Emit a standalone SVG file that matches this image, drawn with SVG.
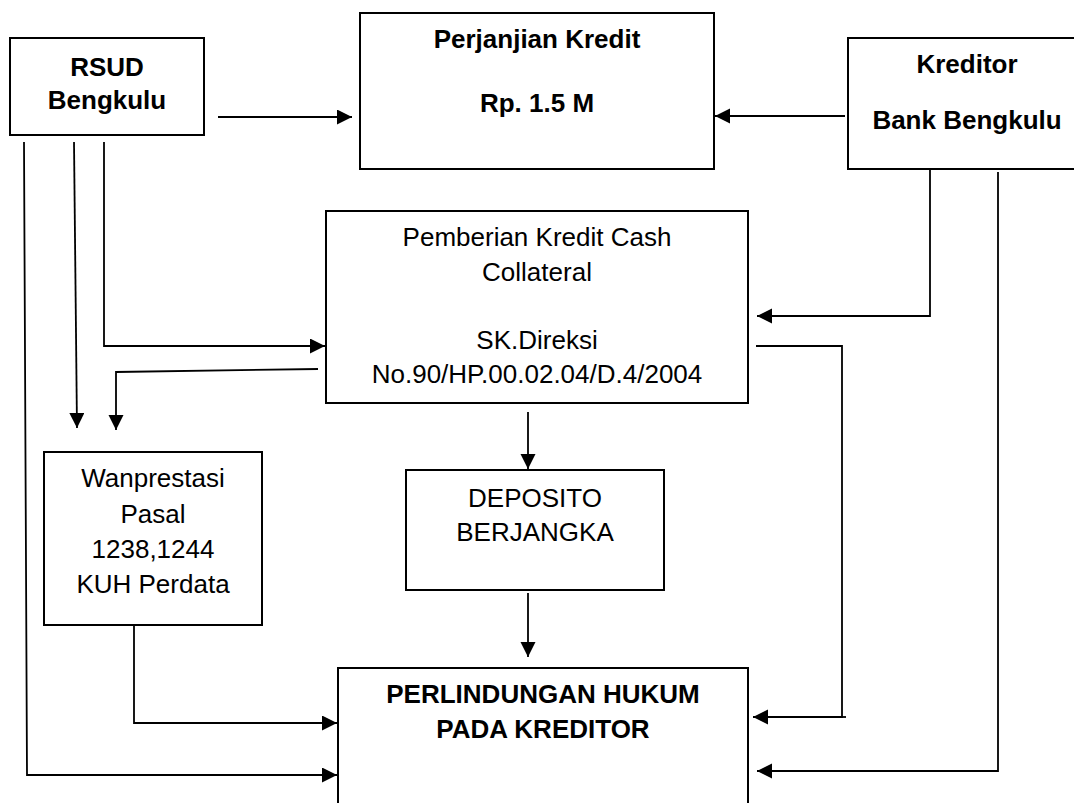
<svg xmlns="http://www.w3.org/2000/svg" width="1074" height="803" viewBox="0 0 1074 803">
<defs>
<marker id="ah" markerUnits="userSpaceOnUse" markerWidth="16" markerHeight="16" refX="15" refY="7.5" orient="auto">
<path d="M0,0 L15,7.5 L0,15 z" fill="#000"/>
</marker>
<style>
.box{fill:#fff;stroke:#000;stroke-width:2}
.c{fill:none;stroke:#000;stroke-width:1.8;marker-end:url(#ah)}
.n{fill:none;stroke:#000;stroke-width:1.8}
.b{font-family:"Liberation Sans",Arial,sans-serif;font-size:26px;font-weight:bold;text-anchor:middle;fill:#000}
.r{font-family:"Liberation Sans",Arial,sans-serif;font-size:26px;text-anchor:middle;fill:#000}
</style>
</defs>
<rect width="1074" height="803" fill="#fff"/>
<g id="connectors">
<path class="c" d="M218,117 H352"/>
<path class="c" d="M845,116 H715"/>
<path class="c" d="M930,170 V316 H757"/>
<path class="c" d="M998,172 V771 H757"/>
<path class="c" d="M756,346 H842 V717 H753"/>
<path class="n" d="M842,717 H846"/>
<path class="c" d="M528,412 V469"/>
<path class="c" d="M528,593 V657"/>
<path class="c" d="M134,626 V723 H337"/>
<path class="c" d="M24,142 L27,775 H337"/>
<path class="c" d="M74,142 L77,428"/>
<path class="c" d="M104,142 V346 H325"/>
<path class="c" d="M318,369 L116,372 V430"/>
</g>
<g id="rsud">
<rect class="box" x="10" y="38" width="194" height="97"/>
<text class="b" x="107" y="76">RSUD</text>
<text class="b" x="107" y="109">Bengkulu</text>
</g>
<g id="perjanjian">
<rect class="box" x="360" y="13" width="354" height="156"/>
<text class="b" x="537" y="48">Perjanjian Kredit</text>
<text class="b" x="537" y="112">Rp. 1.5 M</text>
</g>
<g id="kreditor">
<rect class="box" x="848" y="38" width="238" height="131"/>
<text class="b" x="967" y="73">Kreditor</text>
<text class="b" x="967" y="129">Bank Bengkulu</text>
</g>
<g id="pemberian">
<rect class="box" x="326" y="211" width="422" height="192"/>
<text class="r" x="537" y="246">Pemberian Kredit Cash</text>
<text class="r" x="537" y="281">Collateral</text>
<text class="r" x="537" y="349">SK.Direksi</text>
<text class="r" x="537" y="383">No.90/HP.00.02.04/D.4/2004</text>
</g>
<g id="wanprestasi">
<rect class="box" x="44" y="452" width="218" height="173"/>
<text class="r" x="153" y="487">Wanprestasi</text>
<text class="r" x="153" y="523">Pasal</text>
<text class="r" x="153" y="558">1238,1244</text>
<text class="r" x="153" y="593">KUH Perdata</text>
</g>
<g id="deposito">
<rect class="box" x="406" y="470" width="258" height="120"/>
<text class="r" x="535" y="507">DEPOSITO</text>
<text class="r" x="535" y="541">BERJANGKA</text>
</g>
<g id="perlindungan">
<rect class="box" x="338" y="668" width="410" height="145"/>
<text class="b" x="543" y="703">PERLINDUNGAN HUKUM</text>
<text class="b" x="543" y="738">PADA KREDITOR</text>
</g>
</svg>
